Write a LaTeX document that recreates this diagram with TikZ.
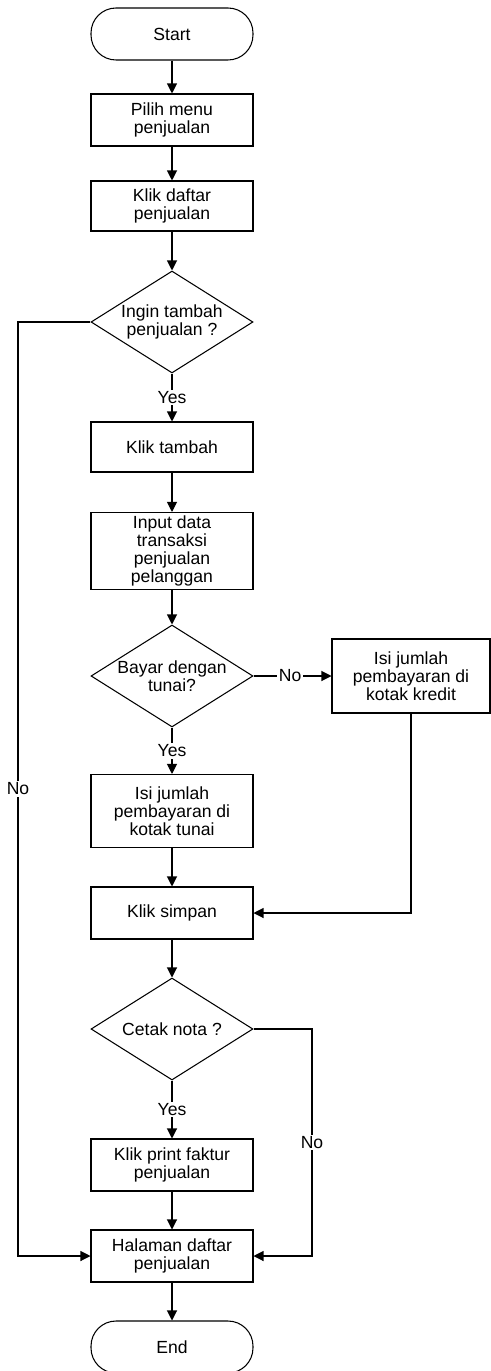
\documentclass[tikz,border=0pt]{standalone}
\usepackage{fontspec}
\setmainfont{Liberation Sans}
\usepackage{tikz}
\usetikzlibrary{positioning, arrows.meta, shapes.geometric}

\begin{document}
\begin{tikzpicture}[
    x=0.02cm, y=-0.02cm,
    font=\fontsize{10pt}{10.4pt}\selectfont,
    line/.style={line width=0.6pt},
    arrow/.style={line, -{Triangle[length=0.2cm, width=0.2cm]}},
    terminal/.style={rectangle, rounded corners=0.5cm, draw, line width=0.6pt, minimum width=3.24cm, minimum height=1.04cm},
    process/.style={rectangle, draw, line width=0.6pt, align=center, minimum width=3.24cm, minimum height=1.04cm, inner sep=1pt},
    decision/.style={diamond, draw, line width=0.6pt, align=center, aspect=1.57, inner sep=-2pt, minimum width=3.24cm, minimum height=2.04cm},
    lbl/.style={fill=white, inner sep=1pt}
]
    \useasboundingbox (0,0) rectangle (490,1371);

    % === Main column ===
    \node[terminal] (start) at (172,34) {Start};
    \node[process] (pilih) at (172,120) {Pilih menu\\penjualan};
    \node[process, minimum height=1.0cm] (daftar) at (172,206) {Klik daftar\\penjualan};
    \node[decision] (ingin) at (172,322) {Ingin tambah\\penjualan ?};
    \node[process, minimum height=1.0cm] (tambah) at (172,447) {Klik tambah};
    \node[process, minimum height=1.54cm] (input) at (172,551) {Input data\\transaksi\\penjualan\\pelanggan};
    \node[decision] (bayar) at (172,676) {Bayar dengan\\tunai?};
    \node[process, minimum height=1.46cm] (tunai) at (172,811) {Isi jumlah\\pembayaran di\\kotak tunai};
    \node[process] (simpan) at (172,913) {Klik simpan};
    \node[decision] (cetak) at (172,1029) {Cetak nota ?};
    \node[process] (print) at (172,1165) {Klik print faktur\\penjualan};
    \node[process] (halaman) at (172,1256) {Halaman daftar\\penjualan};
    \node[terminal] (end) at (172,1347) {End};

    % === Side branch ===
    \node[process, minimum width=3.16cm, minimum height=1.48cm] (kredit) at (411,676) {Isi jumlah\\pembayaran di\\kotak kredit};

    % === Connectors ===
    \draw[arrow] (start) -- (pilih);
    \draw[arrow] (pilih) -- (daftar);
    \draw[arrow] (daftar) -- (ingin);
    \draw[arrow] (ingin) -- node[lbl] {Yes} (tambah);
    \draw[arrow] (tambah) -- (input);
    \draw[arrow] (input) -- (bayar);
    \draw[arrow] (bayar) -- node[lbl] {Yes} (tunai);
    \draw[arrow] (bayar) -- node[lbl, pos=0.47] {No} (kredit);
    \draw[arrow] (tunai) -- (simpan);
    \draw[arrow] (kredit.south) |- (simpan.east);
    \draw[arrow] (simpan) -- (cetak);
    \draw[arrow] (cetak) -- node[lbl] {Yes} (print);
    \draw[arrow] (print) -- (halaman);
    \draw[arrow] (halaman) -- (end);

    % No loops
    \coordinate (leftrail) at (18,322);
    \coordinate (rightrail) at (312,1029);
    \draw[arrow] (ingin.west) -- (leftrail) -- node[lbl] {No} (leftrail |- halaman.west) -- (halaman.west);
    \draw[arrow] (cetak.east) -- (rightrail) -- node[lbl] {No} (rightrail |- halaman.east) -- (halaman.east);

\end{tikzpicture}
\end{document}
